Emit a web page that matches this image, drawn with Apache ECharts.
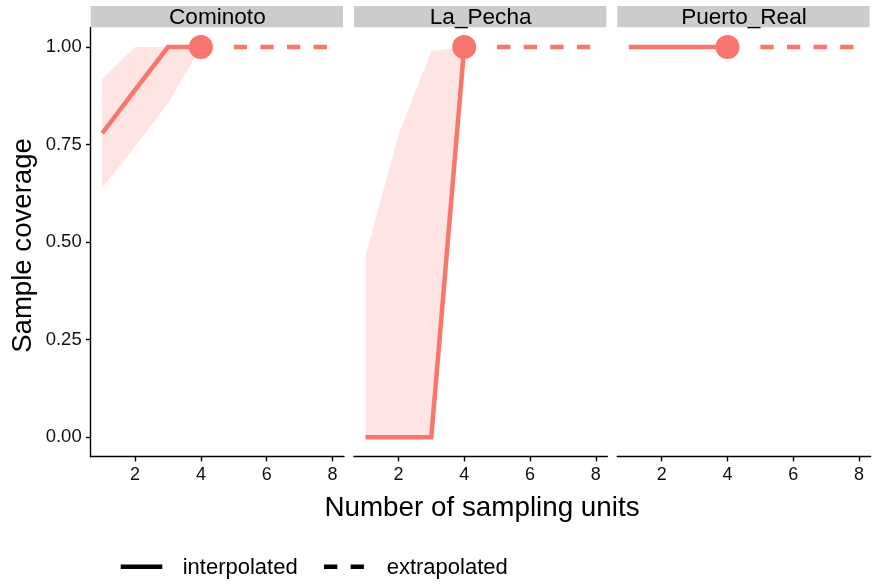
<!DOCTYPE html>
<html>
<head>
<meta charset="utf-8">
<script src="https://cdn.jsdelivr.net/npm/echarts@6/dist/echarts.min.js"></script>
<style>
  html, body { margin: 0; padding: 0; background: #fff; }
  #chart { width: 872px; height: 588px; }
</style>
</head>
<body>
<div id="chart"></div>
<script>
// ---- data ----
const sites = ['Cominoto', 'La_Pecha', 'Puerto_Real'];
const xInterp = [1, 2, 3, 4];
const xExtrap = [5, 6, 7, 8];
const xTickValues = [2, 4, 6, 8];
const yTickValues = [0, 0.25, 0.5, 0.75, 1.0];

const cominotoInterp = [0.779, 0.89, 1.0, 1.0];
const cominotoLower  = [0.64, 0.745, 0.856, 1.0];
const cominotoUpper  = [0.918, 1.0, 1.0, 1.0];
const cominotoExtrap = [1.0, 1.0, 1.0, 1.0];

const laPechaInterp = [0.0, 0.0, 0.0, 1.0];
const laPechaLower  = [0.0, 0.0, 0.0, 1.0];
const laPechaUpper  = [0.463, 0.775, 0.99, 1.0];
const laPechaExtrap = [1.0, 1.0, 1.0, 1.0];

const puertoInterp = [1.0, 1.0, 1.0, 1.0];
const puertoLower  = [1.0, 1.0, 1.0, 1.0];
const puertoUpper  = [1.0, 1.0, 1.0, 1.0];
const puertoExtrap = [1.0, 1.0, 1.0, 1.0];

const observedX = [4, 4, 4];
const observedY = [1.0, 1.0, 1.0];

const legendLabels = ['interpolated', 'extrapolated'];
const xTitle = 'Number of sampling units';
const yTitle = 'Sample coverage';

// ---- layout / style ----
const FONT = '"Liberation Sans", Arial, Helvetica, sans-serif';
const COLOR = '#F8766D';
const BAND = 'rgba(248,118,109,0.2)';
const panelLefts = [90.7, 354, 617.3];
const panelW = 253.3;
const panelTop = 27.5;
const panelH = 429.2;

const interpBySite = [cominotoInterp, laPechaInterp, puertoInterp];
const lowerBySite = [cominotoLower, laPechaLower, puertoLower];
const upperBySite = [cominotoUpper, laPechaUpper, puertoUpper];
const extrapBySite = [cominotoExtrap, laPechaExtrap, puertoExtrap];

const grids = [], xAxes = [], yAxes = [], series = [], graphics = [];

sites.forEach((site, i) => {
  grids.push({ left: panelLefts[i], top: panelTop, width: panelW, height: panelH,
               containLabel: false, outerBoundsMode: 'none' });
  xAxes.push({
    type: 'value', gridIndex: i, min: 0.65, max: 8.35,
    splitLine: { show: false },
    axisLine: { show: true, onZero: false, lineStyle: { color: '#000', width: 1.4 } },
    axisTick: { show: true, length: 4.7, customValues: xTickValues, lineStyle: { color: '#000', width: 1.4 } },
    axisLabel: { show: true, customValues: xTickValues, fontSize: 18, color: '#111', margin: 9.5, fontFamily: FONT }
  });
  yAxes.push({
    type: 'value', gridIndex: i, min: -0.05, max: 1.05,
    show: i === 0,
    splitLine: { show: false },
    axisLine: { show: true, onZero: false, lineStyle: { color: '#000', width: 1.4 } },
    axisTick: { show: true, length: 4.7, customValues: yTickValues, lineStyle: { color: '#000', width: 1.4 } },
    axisLabel: { show: true, customValues: yTickValues, fontSize: 18.5, color: '#111', margin: 9, fontFamily: FONT,
                 formatter: v => Number(v).toFixed(2) }
  });

  const lower = lowerBySite[i], upper = upperBySite[i];
  // ribbon (confidence band) as one polygon, positioned through the axis scales
  series.push({
    type: 'custom', xAxisIndex: i, yAxisIndex: i, silent: true, z: 1,
    data: xInterp.map((x, k) => [x, lower[k], upper[k]]),
    renderItem: (params, api) => {
      if (params.dataIndex !== 0) return null;
      const pts = [];
      xInterp.forEach((x, k) => pts.push(api.coord([x, upper[k]])));
      for (let k = xInterp.length - 1; k >= 0; k--) pts.push(api.coord([xInterp[k], lower[k]]));
      return { type: 'polygon', shape: { points: pts }, style: { fill: BAND, stroke: null } };
    }
  });
  // interpolated line
  series.push({
    type: 'line', xAxisIndex: i, yAxisIndex: i, symbol: 'none', silent: true,
    lineStyle: { color: COLOR, width: 4.5, cap: 'butt', join: 'miter' },
    data: xInterp.map((x, k) => [x, interpBySite[i][k]]), z: 3
  });
  // extrapolated line
  series.push({
    type: 'line', xAxisIndex: i, yAxisIndex: i, symbol: 'none', silent: true,
    lineStyle: { color: COLOR, width: 4.5, cap: 'butt', type: [13.3, 13.3], dashOffset: 0 },
    data: xExtrap.map((x, k) => [x, extrapBySite[i][k]]), z: 3
  });
  // observed point
  series.push({
    type: 'scatter', xAxisIndex: i, yAxisIndex: i, silent: true,
    symbol: 'circle', symbolSize: 24, itemStyle: { color: COLOR, opacity: 1 },
    data: [[observedX[i], observedY[i]]], z: 4
  });

  // strip header
  graphics.push({
    type: 'rect', left: panelLefts[i], top: 6, silent: true,
    shape: { width: panelW - 1, height: 21.3 },
    style: { fill: '#CCCCCC' }
  });
  graphics.push({
    type: 'text', x: panelLefts[i] + panelW / 2, y: 18, silent: true,
    style: { text: site, font: '22.6px ' + FONT, fill: '#000', align: 'center', verticalAlign: 'middle' }
  });
});

// axis titles
graphics.push({
  type: 'text', x: 482, y: 508.5, silent: true,
  style: { text: xTitle, font: '27.8px ' + FONT, fill: '#000', align: 'center', verticalAlign: 'middle' }
});
graphics.push({
  type: 'text', x: 23.5, y: 245.5, rotation: Math.PI / 2, silent: true,
  style: { text: yTitle, font: '27.6px ' + FONT, fill: '#000', align: 'center', verticalAlign: 'middle' }
});

// legend
graphics.push({
  type: 'line', silent: true,
  shape: { x1: 120.7, y1: 566.7, x2: 162.3, y2: 566.7 },
  style: { stroke: '#000', lineWidth: 4.5, lineCap: 'butt' }
});
graphics.push({
  type: 'text', x: 182.7, y: 567.5, silent: true,
  style: { text: legendLabels[0], font: '22px ' + FONT, fill: '#000', align: 'left', verticalAlign: 'middle' }
});
graphics.push({
  type: 'line', silent: true,
  shape: { x1: 324, y1: 566.7, x2: 366, y2: 566.7 },
  style: { stroke: '#000', lineWidth: 4.5, lineCap: 'butt', lineDash: [13.3, 13.3] }
});
graphics.push({
  type: 'text', x: 386.7, y: 567.5, silent: true,
  style: { text: legendLabels[1], font: '22px ' + FONT, fill: '#000', align: 'left', verticalAlign: 'middle' }
});

const chart = echarts.init(document.getElementById('chart'), null, { renderer: 'canvas' });
chart.setOption({
  animation: false,
  backgroundColor: '#fff',
  grid: grids,
  xAxis: xAxes,
  yAxis: yAxes,
  series: series,
  graphic: graphics
});
</script>
</body>
</html>
